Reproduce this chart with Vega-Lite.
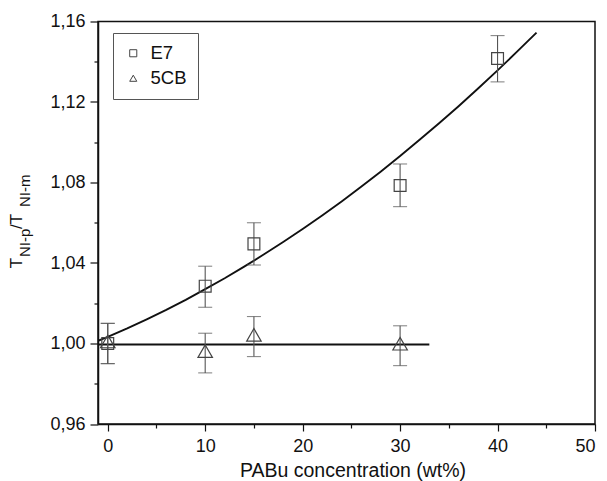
{
  "$schema": "https://vega.github.io/schema/vega-lite/v6.json",
  "width": 497,
  "height": 402.5,
  "autosize": {"type": "none"},
  "padding": {"left": 98, "top": 21.5, "right": 12, "bottom": 57},
  "background": "white",
  "config": {
    "font": "Liberation Sans",
    "view": {"stroke": "#111", "strokeWidth": 1.5},
    "axis": {"grid": false, "domainColor": "#111", "domainWidth": 1.5, "tickColor": "#111", "tickWidth": 1.2, "labelColor": "#111", "labelFont": "Liberation Sans", "titleFont": "Liberation Sans", "titleColor": "#111", "titleFontWeight": "normal"}
  },
  "datasets": {
    "curve": [
      {"x": -1, "y": 1.0013}, {"x": 0, "y": 1.0033}, {"x": 2, "y": 1.0075}, {"x": 4, "y": 1.012},
      {"x": 6, "y": 1.0167}, {"x": 8, "y": 1.0217}, {"x": 10, "y": 1.027}, {"x": 12, "y": 1.0324},
      {"x": 14, "y": 1.0382}, {"x": 16, "y": 1.0442}, {"x": 18, "y": 1.0504}, {"x": 20, "y": 1.0569},
      {"x": 22, "y": 1.0636}, {"x": 24, "y": 1.0706}, {"x": 26, "y": 1.0779}, {"x": 28, "y": 1.0854},
      {"x": 30, "y": 1.0932}, {"x": 32, "y": 1.1012}, {"x": 34, "y": 1.1094}, {"x": 36, "y": 1.1179},
      {"x": 38, "y": 1.1267}, {"x": 40, "y": 1.1357}, {"x": 42, "y": 1.145}, {"x": 44, "y": 1.1545}
    ],
    "flat": [{"x": -1, "y": 0.9995}, {"x": 33, "y": 0.9995}],
    "pts": [
      {"series": "E7", "x": 0, "y": 1.0, "lo": 0.99, "hi": 1.01},
      {"series": "E7", "x": 10, "y": 1.0285, "lo": 1.018, "hi": 1.0384},
      {"series": "E7", "x": 15, "y": 1.0495, "lo": 1.039, "hi": 1.06},
      {"series": "E7", "x": 30, "y": 1.0785, "lo": 1.068, "hi": 1.0892},
      {"series": "E7", "x": 40, "y": 1.1416, "lo": 1.13, "hi": 1.153},
      {"series": "5CB", "x": 0, "y": 1.001, "lo": 0.99, "hi": 1.01},
      {"series": "5CB", "x": 10, "y": 0.9962, "lo": 0.9854, "hi": 1.0051},
      {"series": "5CB", "x": 15, "y": 1.0043, "lo": 0.9935, "hi": 1.0134},
      {"series": "5CB", "x": 30, "y": 0.9999, "lo": 0.989, "hi": 1.0088}
    ]
  },
  "resolve": {"axis": {"x": "independent", "y": "independent"}},
  "layer": [
    {
      "data": {"name": "curve"},
      "mark": {"type": "line", "color": "#111", "strokeWidth": 1.9, "clip": true},
      "encoding": {
        "x": {"field": "x", "type": "quantitative", "scale": {"domain": [-1, 50], "nice": false, "zero": false},
          "axis": {"orient": "bottom", "values": [0, 10, 20, 30, 40, 50], "tickSize": 7, "labelFontSize": 18, "labelBaseline": "alphabetic", "labelPadding": 20.5,
            "title": "PABu concentration (wt%)", "titleFontSize": 19.5, "titleX": 254.5, "titleY": 52.7, "titleAlign": "center", "titleBaseline": "alphabetic"}},
        "y": {"field": "y", "type": "quantitative", "scale": {"domain": [0.96, 1.16], "nice": false, "zero": false},
          "axis": {"orient": "left", "values": [0.96, 1.0, 1.04, 1.08, 1.12, 1.16], "tickSize": 8, "labelFontSize": 18, "labelPadding": 5,
            "labelExpr": "replace(format(datum.value, '.2f'), '.', ',')",
            "title": "T", "titleFontSize": 17, "titleAngle": 270, "titleAlign": "left", "titleBaseline": "alphabetic", "titleX": -76.3, "titleY": 246.2}}
      }
    },
    {
      "data": {"name": "flat"},
      "mark": {"type": "line", "color": "#111", "strokeWidth": 1.9},
      "encoding": {
        "x": {"field": "x", "type": "quantitative",
          "axis": {"orient": "bottom", "values": [5, 15, 25, 35, 45], "labels": false, "domain": false, "tickSize": 4, "title": null}},
        "y": {"field": "y", "type": "quantitative",
          "axis": {"orient": "left", "values": [0.98, 1.02, 1.06, 1.1, 1.14], "labels": false, "domain": false, "tickSize": 4,
            "title": "NI-p", "titleFontSize": 15, "titleAngle": 270, "titleAlign": "left", "titleBaseline": "alphabetic", "titleX": -69, "titleY": 235}}
      }
    },
    {
      "data": {"name": "pts"},
      "mark": {"type": "rule", "color": "#555", "strokeWidth": 1.1},
      "encoding": {
        "x": {"field": "x", "type": "quantitative", "axis": null},
        "y": {"field": "lo", "type": "quantitative",
          "axis": {"orient": "left", "labels": false, "ticks": false, "domain": false,
            "title": "/T", "titleFontSize": 17, "titleAngle": 270, "titleAlign": "left", "titleBaseline": "alphabetic", "titleX": -76.3, "titleY": 207}},
        "y2": {"field": "hi"}
      }
    },
    {
      "data": {"name": "pts"},
      "mark": {"type": "tick", "orient": "horizontal", "color": "#555", "size": 14, "thickness": 1.1},
      "encoding": {
        "x": {"field": "x", "type": "quantitative", "axis": null},
        "y": {"field": "lo", "type": "quantitative", "axis": null}
      }
    },
    {
      "data": {"name": "pts"},
      "mark": {"type": "tick", "orient": "horizontal", "color": "#555", "size": 14, "thickness": 1.1},
      "encoding": {
        "x": {"field": "x", "type": "quantitative", "axis": null},
        "y": {"field": "hi", "type": "quantitative", "axis": null}
      }
    },
    {
      "data": {"name": "pts"},
      "transform": [{"filter": "datum.series === 'E7'"}],
      "mark": {"type": "point", "filled": false, "color": "#444", "size": 140, "strokeWidth": 1.2, "opacity": 1},
      "encoding": {
        "x": {"field": "x", "type": "quantitative", "axis": null},
        "y": {"field": "y", "type": "quantitative",
          "axis": {"orient": "left", "labels": false, "ticks": false, "domain": false,
            "title": "NI-m", "titleFontSize": 15, "titleAngle": 270, "titleAlign": "left", "titleBaseline": "alphabetic", "titleX": -69, "titleY": 185}},
        "shape": {"field": "series", "type": "nominal",
          "scale": {"domain": ["E7", "5CB"], "range": ["square", "triangle-up"]},
          "legend": {"orient": "none", "legendX": 15, "legendY": 11.5, "title": null, "padding": 11,
            "strokeColor": "#555", "fillColor": "white", "symbolSize": 50, "symbolStrokeWidth": 1, "symbolStrokeColor": "#444", "symbolFillColor": "transparent",
            "labelFontSize": 18.5, "labelColor": "#111", "labelOffset": 8, "rowPadding": 6}}
      }
    },
    {
      "data": {"name": "pts"},
      "transform": [{"filter": "datum.series === '5CB'"}],
      "mark": {"type": "point", "filled": false, "color": "#444", "size": 210, "strokeWidth": 1.2, "opacity": 1},
      "encoding": {
        "x": {"field": "x", "type": "quantitative", "axis": null},
        "y": {"field": "y", "type": "quantitative", "axis": null},
        "shape": {"field": "series", "type": "nominal"}
      }
    }
  ]
}
